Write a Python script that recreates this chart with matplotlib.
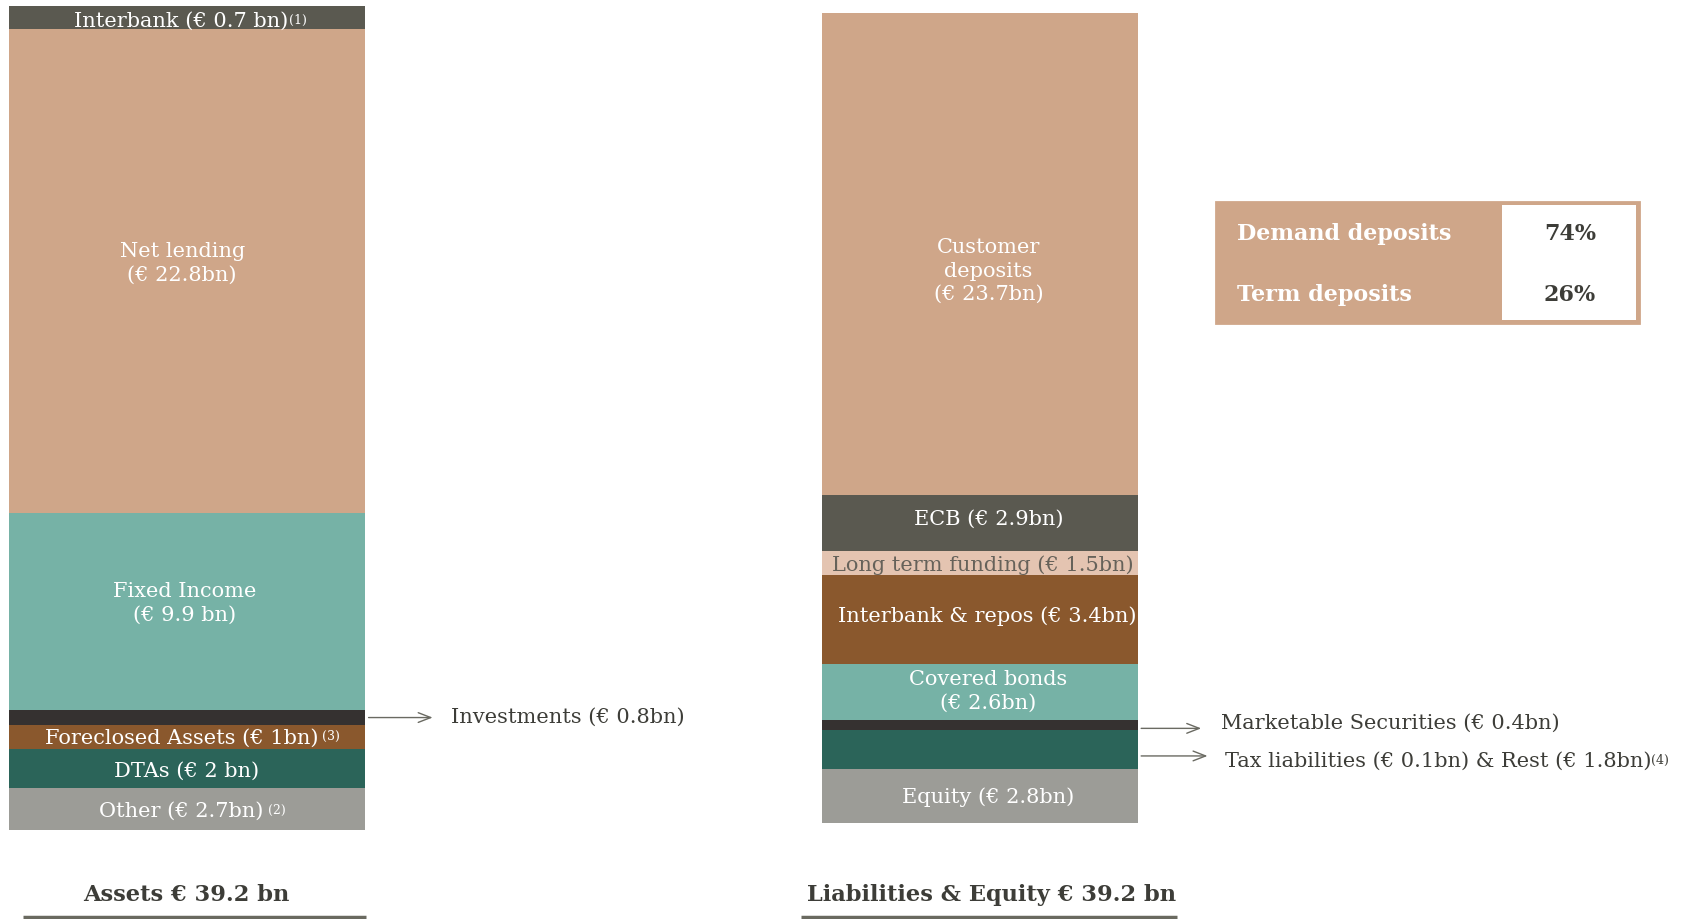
import matplotlib
matplotlib.use("Agg")
import matplotlib.pyplot as plt
from matplotlib.patches import Rectangle
import numpy as np

# ---------------- data ----------------
asset_labels = ["Other (€ 2.7bn)", "DTAs (€ 2 bn)", "Foreclosed Assets (€ 1bn)", "Investments (€ 0.8bn)",
                "Fixed Income\n(€ 9.9 bn)", "Net lending\n(€ 22.8bn)", "Interbank (€ 0.7 bn)"]
asset_notes = [" (2)", "", " (3)", "", "", "", "(1)"]
asset_values = [2.0, 1.85, 1.14, 0.71, 9.37, 23.0, 1.12]   # bar heights as drawn (bn)

liab_labels = ["Equity (€ 2.8bn)", "Tax liabilities (€ 0.1bn) & Rest (€ 1.8bn)", "Marketable Securities (€ 0.4bn)",
               "Covered bonds\n(€ 2.6bn)", "Interbank & repos (€ 3.4bn)", "Long term funding (€ 1.5bn)",
               "ECB (€ 2.9bn)", "Customer\ndeposits\n(€ 23.7bn)"]
liab_notes = ["", "(4)", "", "", "", "", "", ""]
liab_values = [2.61, 1.89, 0.48, 2.71, 4.31, 1.16, 2.71, 23.33]

deposit_types = ["Demand deposits", "Term deposits"]
deposit_shares = ["74%", "26%"]

titles = ["Assets € 39.2 bn", "Liabilities & Equity € 39.2 bn"]

# ---------------- style ----------------
GRAY = "#5a5950"; TAN = "#cfa689"; TEAL = "#76b2a6"; DARK = "#353130"
BROWN = "#8a582d"; GREEN = "#2b6459"; LGRAY = "#9c9c97"; LTAN = "#e4c4b1"
TXT = "#3d3d38"
asset_colors = [LGRAY, GREEN, BROWN, DARK, TEAL, TAN, GRAY]
liab_colors = [LGRAY, GREEN, DARK, TEAL, BROWN, LTAN, GRAY, TAN]
asset_outside = [False, False, False, True, False, False, False]
liab_outside = [False, True, True, False, False, False, False, False]
liab_txtcol = ["white"] * 8
liab_txtcol[5] = "#66625a"

FONT = "DejaVu Serif"
FS = 15
plt.rcParams["font.family"] = FONT

W, H = 1692, 920
fig = plt.figure(figsize=(W / 100, H / 100), dpi=100)

# overlay axes in pixel coordinates for layout elements
ov = fig.add_axes([0, 0, 1, 1], zorder=5)
ov.set_xlim(0, W); ov.set_ylim(H, 0); ov.axis("off")
ov.patch.set_alpha(0)

def stack(rect, values, colors, labels, notes, outside, txtcols, offsets, xoffs, arrows):
    ax = fig.add_axes(rect)
    total = sum(values)
    ax.set_xlim(0, 1); ax.set_ylim(0, total); ax.axis("off")
    bottoms = np.concatenate([[0], np.cumsum(values)[:-1]])
    ax.bar([0.5] * len(values), values, width=1.0, bottom=bottoms, color=colors, linewidth=0)
    for i, (b, v, lab, note) in enumerate(zip(bottoms, values, labels, notes)):
        mid = b + v / 2
        dy = offsets[i]
        if outside[i]:
            x0, x1, ady, tx = arrows[i]
            t = ax.annotate(lab, xy=(1.0, mid), xycoords=("axes fraction", "data"),
                            xytext=(tx, dy), textcoords="offset points",
                            ha="left", va="center", fontsize=FS, color=TXT)
            ax.annotate("", xy=(1.0 + x1, mid + ady), xycoords=("axes fraction", "data"),
                        xytext=(1.0 + x0, mid + ady), textcoords=("axes fraction", "data"),
                        arrowprops=dict(arrowstyle="->,head_length=0.9,head_width=0.35",
                                        color="#6a6a62", lw=1.0, shrinkA=0, shrinkB=0))
        else:
            t = ax.annotate(lab, xy=(0.5, mid), xycoords=("axes fraction", "data"),
                            xytext=(xoffs[i] - (4 if note else 0), dy), textcoords="offset points",
                            ha="center", va="center", fontsize=FS, color=txtcols[i],
                            linespacing=1.3)
        if note:
            ax.annotate(note, xy=(1, 0), xycoords=t, xytext=(0, 3), textcoords="offset points",
                        ha="left", va="bottom", fontsize=9,
                        color=TXT if outside[i] else txtcols[i])
    return ax

stack([9 / W, 89 / H, 356 / W, 824.5 / H], asset_values, asset_colors, asset_labels, asset_notes,
      asset_outside, ["white"] * 7, [-1, -1, 0, 1, 6.5, 6, -2.5],
      [0, 0, 0, 0, -2, -3.5, 0],
      {3: (0.01, 0.19, 0.0, 62)})
stack([822 / W, 96 / H, 316 / W, 810 / H], liab_values, liab_colors, liab_labels, liab_notes,
      liab_outside, liab_txtcol, [0, -8, 1.7, 1, 3, -0.8, 3.5, -11.5],
      [6, 0, 0, 6, 5, 2, 6, 6],
      {1: (0.01, 0.22, -0.31, 62.5), 2: (0.01, 0.20, -0.16, 60)})

# deposit table
ov.add_patch(Rectangle((1216, 203), 423, 121, facecolor=TAN, edgecolor=TAN, lw=2))
ov.add_patch(Rectangle((1502, 206), 134, 115, facecolor="white", edgecolor="none"))
for i, (dt, sh) in enumerate(zip(deposit_types, deposit_shares)):
    y = 234 + i * 61
    ov.text(1237, y, dt, ha="left", va="center", fontsize=16, fontweight="bold", color="white")
    ov.text(1570, y, sh, ha="center", va="center", fontsize=16, fontweight="bold", color=TXT)

# bottom titles with underline
for title, (x0, x1), xc in zip(titles, [(23, 366), (801, 1177)], [186, 992]):
    ov.text(xc, 895, title, ha="center", va="center", fontsize=16.2,
            fontweight="bold", color=TXT)
    ov.plot([x0, x1], [918, 918], color="#6a6a60", lw=2.5, solid_capstyle="butt")

fig.savefig("out.png", dpi=100)
